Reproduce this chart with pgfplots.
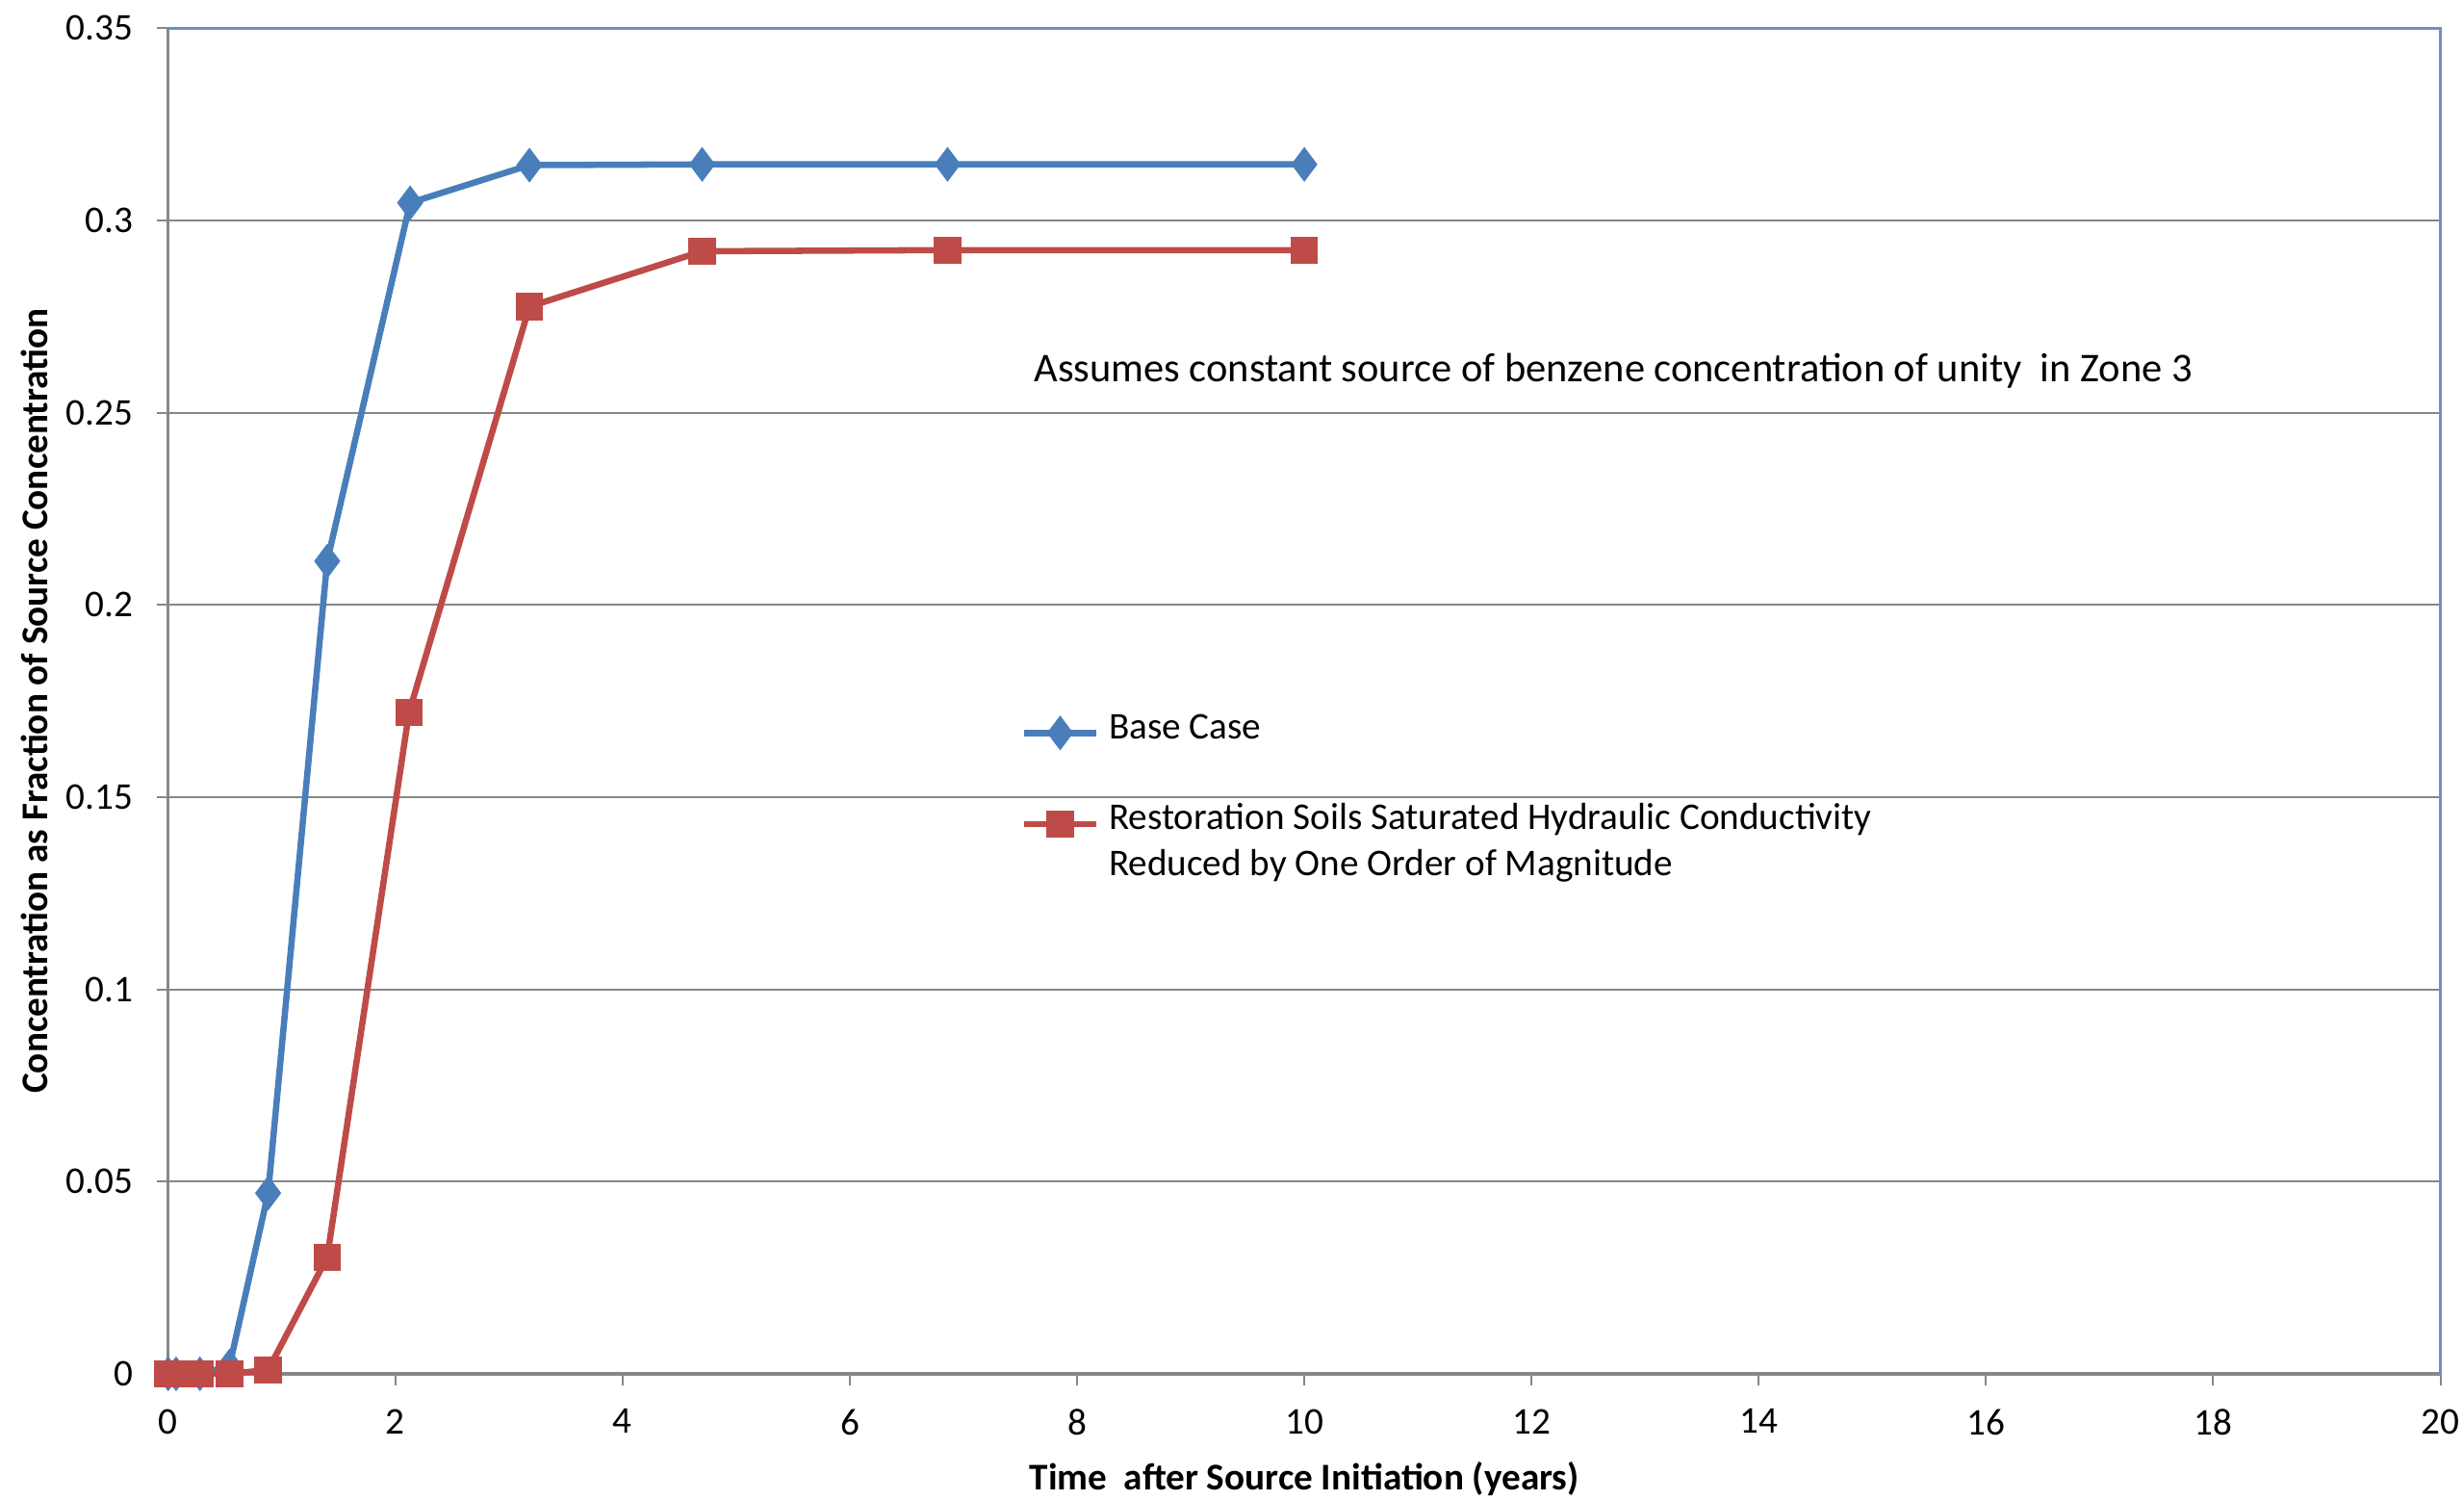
\documentclass[border=0pt]{standalone}
\usepackage{fontspec}
\setmainfont{Carlito}
\usepackage{pgfplots}
\pgfplotsset{compat=1.18}
\definecolor{xblue}{HTML}{4A7EBB}
\definecolor{xred}{HTML}{BE4B48}
\definecolor{xgrid}{HTML}{878787}
\definecolor{xframe}{HTML}{6D8FC4}
\begin{document}
\begin{tikzpicture}
\useasboundingbox (-53.5pt,-40pt) rectangle (730.5pt,437pt);
\begin{axis}[
  width=723pt, height=428pt, scale only axis,
  xmin=0, xmax=20, ymin=0, ymax=0.35,
  xtick={0,2,4,6,8,10,12,14,16,18,20},
  ytick={0,0.05,0.1,0.15,0.2,0.25,0.3,0.35},
  /pgf/number format/assume math mode=true,
  yticklabel style={/pgf/number format/fixed, /pgf/number format/precision=2, xshift=-4pt},
  xticklabel style={yshift=-4pt},
  ticklabel style={font=\fontsize{12}{14}\selectfont},
  tick align=outside, xtick pos=bottom, ytick pos=left,
  major tick length=3.7pt,
  tick style={xgrid, line width=0.6pt},
  ymajorgrids, grid style={xgrid, line width=0.6pt},
  axis line style={draw=none},
  clip=false,
  xlabel={\bfseries Time\ \ after Source Initiation (years)},
  ylabel={\bfseries Concentration as Fraction of Source Concentration},
  label style={font=\fontsize{12}{14}\selectfont},
  xlabel style={at={(axis description cs:0.5,-0.0783)}, anchor=center},
  ylabel style={at={(axis description cs:-0.0588,0.5)}, anchor=center},
  legend style={at={(axis description cs:0.375,0.4937)}, anchor=north west,
    draw=none, fill=none, inner sep=0pt, row sep=0pt, column sep=3pt,
    font=\fontsize{12}{14}\selectfont,
    nodes={inner sep=0pt, text height=9pt, text depth=5.5pt}},
  legend cell align=left,
  legend image code/.code={\draw[mark repeat=2,mark phase=2,#1] plot coordinates {(0pt,0pt) (11.5pt,0pt) (23pt,0pt)};},
]
\draw[xgrid, line width=1.2pt] (rel axis cs:0,0) -- (rel axis cs:1,0);
\draw[xgrid, line width=1pt] (rel axis cs:0,0) -- (rel axis cs:0,1);
\draw[xframe, line width=0.8pt] (rel axis cs:0,1) -- (rel axis cs:1,1) -- (rel axis cs:1,0);

\addplot[xblue, line width=2pt, mark=diamond*, mark size=5.3pt, mark options={fill=xblue, draw=xblue, line width=0.3pt}]
coordinates {(0,0) (0.07,0) (0.28,0) (0.54,0.002) (0.88,0.047) (1.40,0.2114) (2.13,0.3046) (3.18,0.3144) (4.70,0.3146) (6.86,0.3146) (10.0,0.3146)};
\addlegendentry{Base Case}
\addlegendimage{empty legend}
\addlegendentry{\phantom{X}}
\addplot[xred, line width=2pt, mark=square*, mark size=4.2pt, mark options={fill=xred, draw=xred, line width=0.3pt}]
coordinates {(0,0) (0.07,0) (0.28,0) (0.54,0) (0.88,0.001) (1.40,0.0303) (2.12,0.172) (3.18,0.2776) (4.70,0.292) (6.86,0.2923) (10.0,0.2923)};
\addlegendentry{Restoration Soils Saturated Hydraulic Conductivity}
\addlegendimage{empty legend}
\addlegendentry{Reduced by One Order of Magnitude}

\node[font=\fontsize{13}{15}\selectfont, anchor=center] at (axis cs:12.72,0.2609) {Assumes constant source of benzene concentration of unity\ \ in Zone 3};
\end{axis}
\end{tikzpicture}
\end{document}
